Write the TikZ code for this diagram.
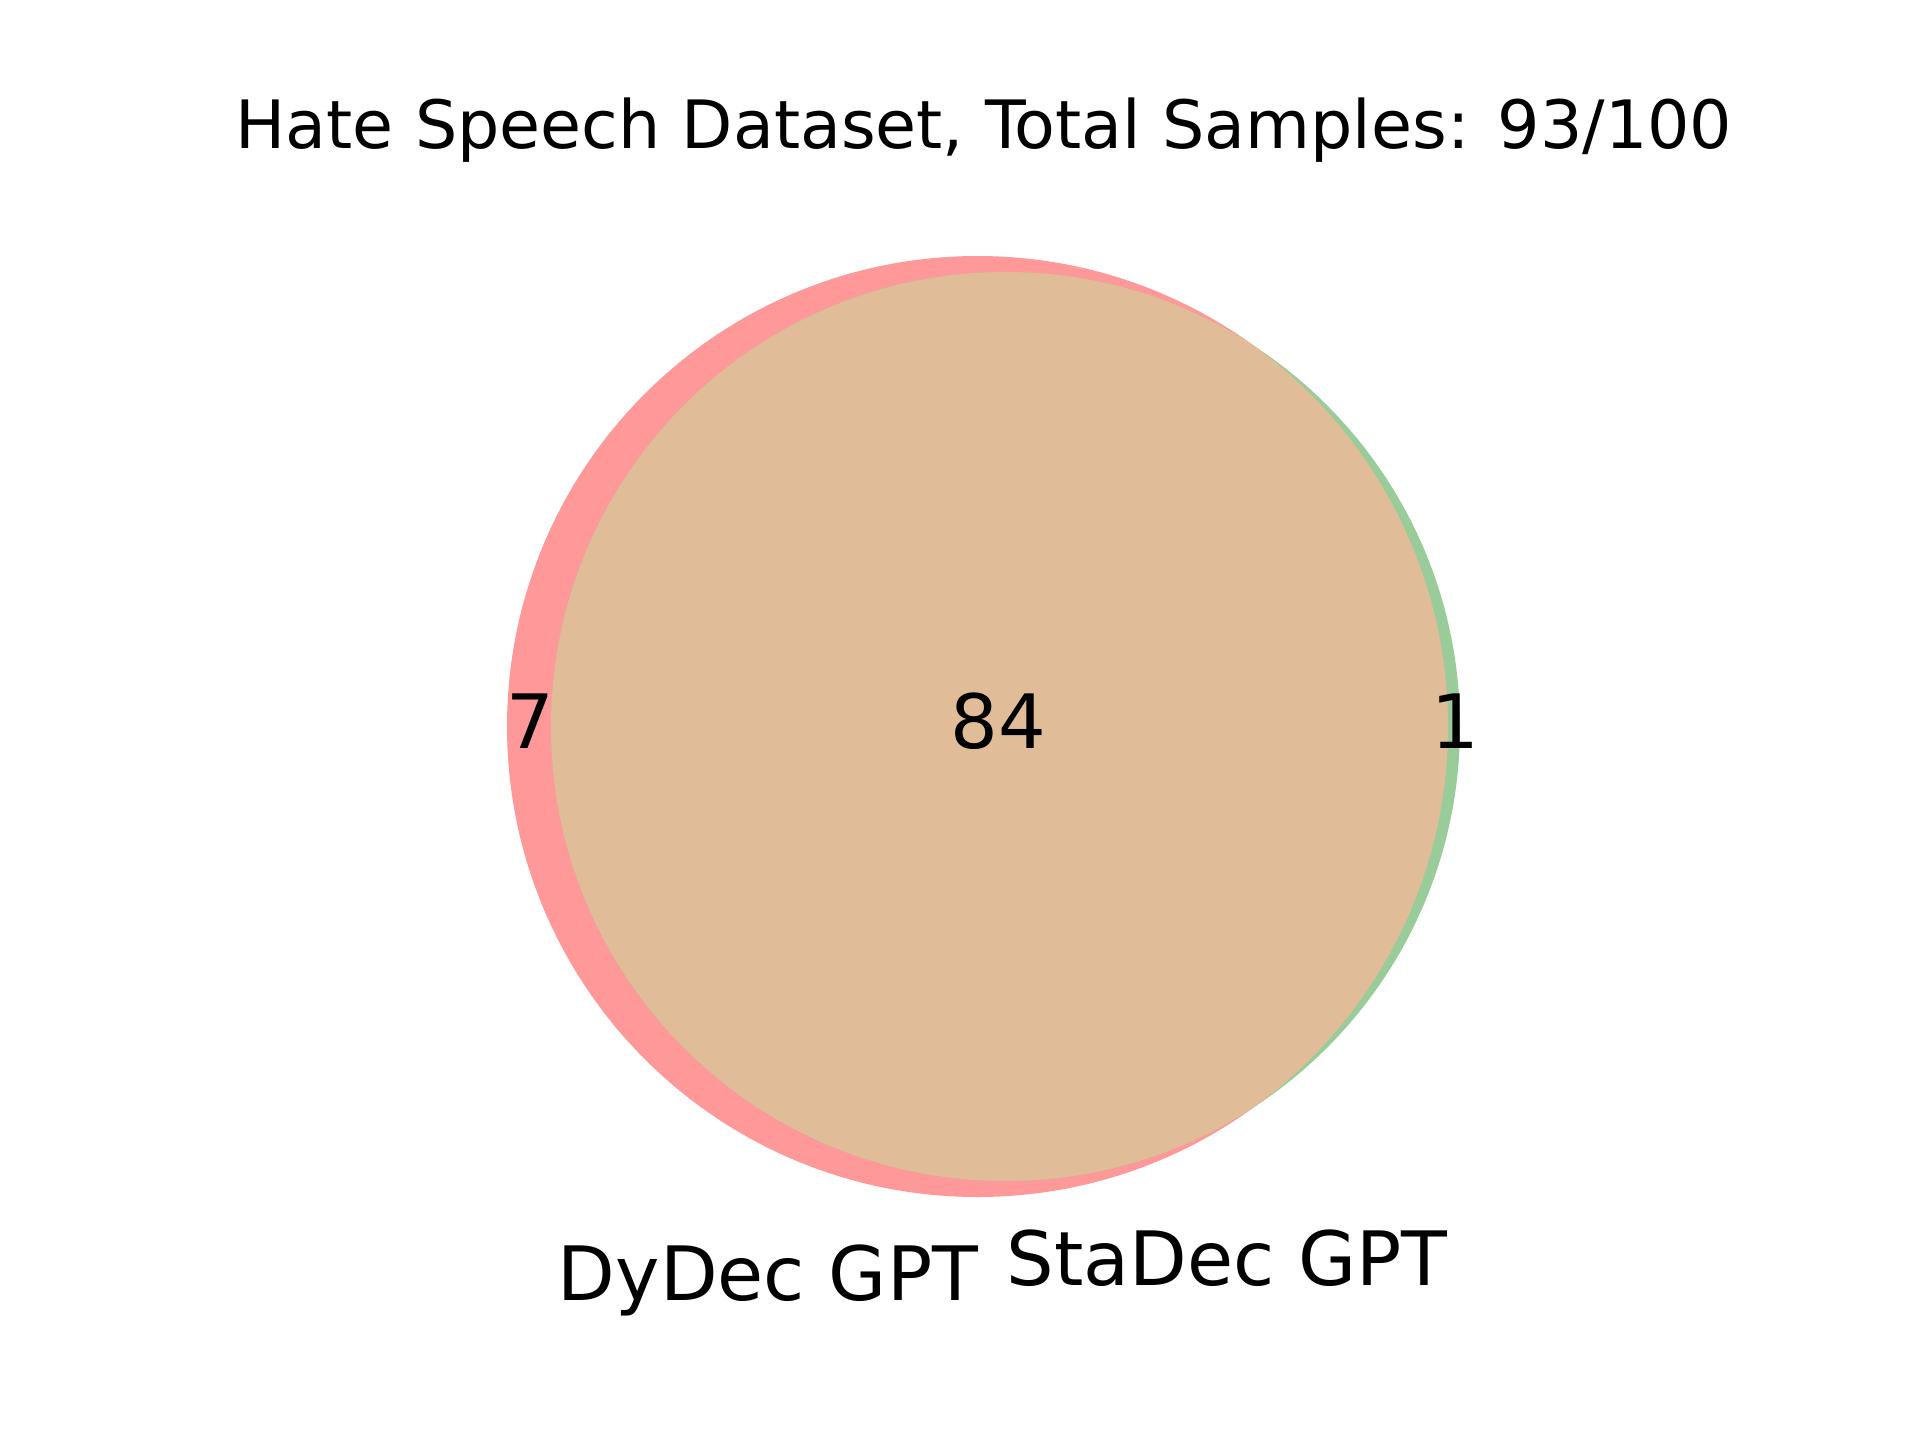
\documentclass[tikz,border=0pt]{standalone}
\usepackage{fontspec}
\setmainfont{DejaVu Sans}
\definecolor{setA}{RGB}{255,153,153}
\definecolor{setB}{RGB}{153,204,153}
\definecolor{setAB}{RGB}{224,188,153}
\tikzset{
  lbl/.style={inner sep=0pt, anchor=base, font=\fontsize{75}{90}\selectfont},
  ttl/.style={inner sep=0pt, anchor=base, font=\fontsize{66.67}{80}\selectfont}
}
\begin{document}
\begin{tikzpicture}[x=1pt,y=-1pt]
\useasboundingbox (0,0) rectangle (1920,1440);
% sets
\fill[setA] (977.5,726.5) circle[radius=470.5];
\fill[setB] (1005.5,726.5) circle[radius=454.5];
\begin{scope}
  \clip (977.5,726.5) circle[radius=470.5];
  \fill[setAB] (1005.5,726.5) circle[radius=454.5];
\end{scope}
% counts
\node[lbl] (a) at (530,748) {7};
\node[lbl] (ab) at (998.5,748) {84};
\node[lbl] (b) at (1455,748) {1};
% set labels
\node[lbl] (la) at (768,1300) {DyDec GPT};
\node[lbl] (lb) at (1227,1285) {StaDec GPT};
% title
\node[ttl] (title) at (984,148) {Hate Speech Dataset, Total Samples: 93/100};
\end{tikzpicture}
\end{document}
